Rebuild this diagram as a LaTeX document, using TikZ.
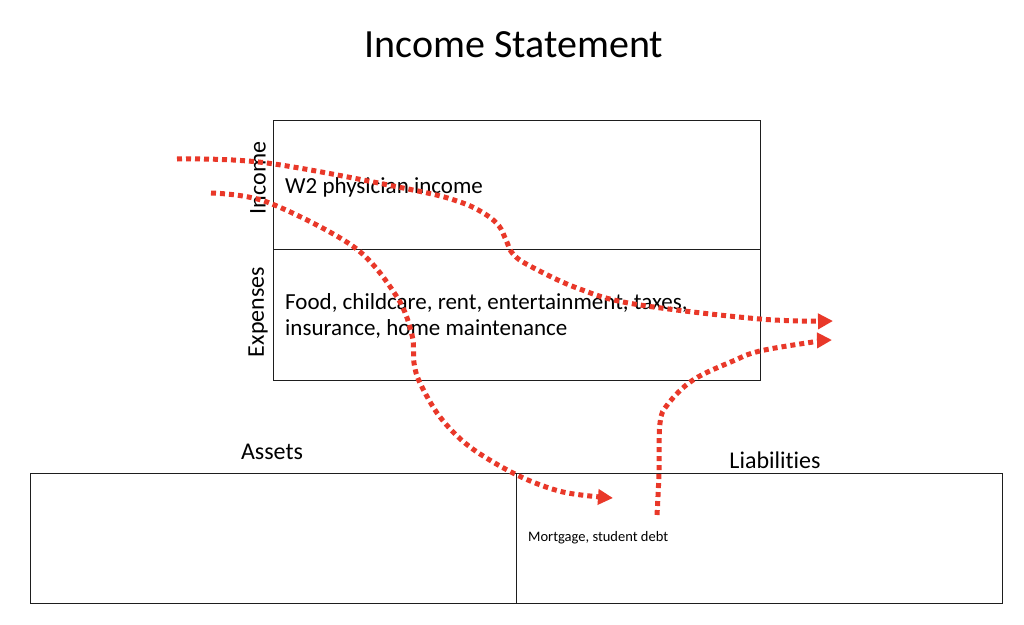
\documentclass[tikz,border=0pt]{standalone}
\usepackage{fontspec}
\setmainfont[Ligatures={NoCommon}]{Carlito}
\usetikzlibrary{arrows.meta}
\definecolor{flowred}{RGB}{233,56,41}
\definecolor{boxline}{RGB}{30,30,30}
\begin{document}
\begin{tikzpicture}[x=1pt,y=-1pt,
  box/.style={draw=boxline, line width=1.4pt, rectangle, inner sep=0pt, anchor=north west},
  bodytext/.style={font=\fontsize{23}{26.5}\selectfont, inner sep=0pt, align=left},
  sidelabel/.style={font=\fontsize{24}{28}\selectfont, inner sep=0pt, rotate=90},
  headlabel/.style={font=\fontsize{24}{28}\selectfont, inner sep=0pt},
  flow/.style={draw=flowred, line width=5pt, dash pattern=on 5pt off 4pt,
    -{Triangle[length=15pt,width=15pt]}}]
\useasboundingbox (0,0) rectangle (1024,624);
\fill[white] (0,0) rectangle (1024,624);

% title
\node[font=\fontsize{40}{46}\selectfont, inner sep=0pt] (title) at (514,45) {Income Statement};

% income statement boxes
\node[box, minimum width=487pt, minimum height=129pt] (inc) at (273,120) {};
\node[box, minimum width=487pt, minimum height=131pt] (exp) at (273,249) {};
\node[sidelabel] (inclab) at (258,178) {Income};
\node[sidelabel] (explab) at (258,312) {Expenses};
\node[bodytext, anchor=west] (inctext) at (285,187) {W2 physician income};
\node[bodytext, anchor=west] (exptext) at (285,316) {Food, childcare, rent, entertainment, taxes,\\insurance, home maintenance};

% balance sheet boxes
\node[box, minimum width=486pt, minimum height=130pt] (assets) at (30,473) {};
\node[box, minimum width=486pt, minimum height=130pt] (liab) at (516,473) {};
\node[headlabel] (assetlab) at (272,452) {Assets};
\node[headlabel] (liablab) at (775,460) {Liabilities};
\node[font=\fontsize{14.5}{17}\selectfont, inner sep=0pt, anchor=west] (liabtext) at (528,538) {Mortgage, student debt};

% flow endpoints
\coordinate (s1) at (177,159);
\coordinate (e1) at (833,321);
\coordinate (s2) at (211,193);
\coordinate (e2) at (613,498);
\coordinate (s3) at (657,515);
\coordinate (e3) at (832,340);

\draw[flow] plot[smooth, tension=0.6] coordinates {(s1) (267,163) (413,190) (460,202) (485,214) (499,226) (506,240) (513,254) (530,266) (577,288) (634,304) (760,319) (e1)};
\draw[flow] plot[smooth, tension=0.55] coordinates {(s2) (267,202) (354,247) (397,297) (412,335) (414,363) (420,383) (440,417) (470,447) (517,475) (563,492) (e2)};
\draw[flow] plot[smooth, tension=0.6] coordinates {(s3) (659,473) (660,423) (668,404) (693,380) (733,361) (760,351) (813,342) (e3)};
\end{tikzpicture}
\end{document}
